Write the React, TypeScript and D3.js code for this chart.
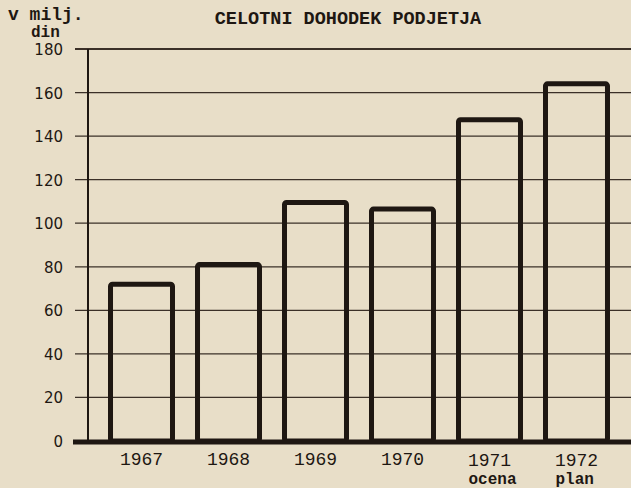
import React, { useRef, useEffect } from 'react';
import * as d3 from 'd3';

const years = ['1967', '1968', '1969', '1970', '1971', '1972'];
const notes = ['', '', '', '', 'ocena', 'plan'];
const income = [72, 81, 109.5, 106.5, 147.5, 164];
const yTicks = [0, 20, 40, 60, 80, 100, 120, 140, 160, 180];

const title = 'CELOTNI DOHODEK PODJETJA';
const unitLine1 = 'v milj.';
const unitLine2 = 'din';

const W = 631;
const H = 488;
const paper = '#e8dec8';
const ink = '#1e1712';
const mono = '"Liberation Mono", "DejaVu Sans Mono", monospace';

const App = () => {
    const svgRef = useRef<SVGSVGElement>(null);

    useEffect(() => {
        document.body.style.margin = '0';
        const svg = d3.select(svgRef.current);
        svg.selectAll('*').remove();

        const left = 88;
        const top = 49;
        const bottom = 441;

        const x = d3.scaleBand().domain(years).range([left, 630]).padding(0.23);
        const y = d3.scaleLinear().domain([0, 180]).range([bottom, top]);

        svg.append('rect').attr('width', W).attr('height', H).attr('fill', paper);

        // grid lines
        svg.append('g')
            .selectAll('line')
            .data(yTicks.filter((t) => t > 0))
            .join('line')
            .attr('x1', 75)
            .attr('x2', W)
            .attr('y1', (d) => y(d))
            .attr('y2', (d) => y(d))
            .attr('stroke', '#3b3028')
            .attr('stroke-width', (d) => (d === 180 ? 2 : 1.3));

        // tick labels
        svg.append('g')
            .selectAll('text')
            .data(yTicks)
            .join('text')
            .attr('x', 63)
            .attr('y', (d) => y(d) + 6)
            .attr('text-anchor', 'end')
            .attr('font-family', '"DejaVu Sans", sans-serif')
            .attr('font-size', 15)
            .attr('fill', ink)
            .text((d) => d);

        // left axis
        svg.append('line')
            .attr('x1', left)
            .attr('x2', left)
            .attr('y1', top)
            .attr('y2', bottom)
            .attr('stroke', ink)
            .attr('stroke-width', 2);

        // bars
        const sw = 5;
        svg.append('g')
            .selectAll('rect')
            .data(income)
            .join('rect')
            .attr('x', (d, i) => (x(years[i]) as number) + sw / 2)
            .attr('width', x.bandwidth() - sw)
            .attr('y', (d) => y(d))
            .attr('height', (d) => bottom - y(d))
            .attr('rx', 2)
            .attr('fill', 'none')
            .attr('stroke', ink)
            .attr('stroke-width', sw);

        // baseline
        svg.append('line')
            .attr('x1', 73)
            .attr('x2', W)
            .attr('y1', bottom + 1)
            .attr('y2', bottom + 1)
            .attr('stroke', ink)
            .attr('stroke-width', 5);

        // category labels
        const labels = svg.append('g')
            .attr('font-family', mono)
            .attr('font-size', 18)
            .attr('fill', ink);
        years.forEach((yr, i) => {
            const cx = (x(yr) as number) + x.bandwidth() / 2;
            const hasNote = notes[i] !== '';
            labels.append('text')
                .attr('x', cx)
                .attr('y', hasNote ? 466 : 465)
                .attr('text-anchor', 'middle')
                .text(yr);
            if (hasNote) {
                labels.append('text')
                    .attr('x', cx - 21)
                    .attr('y', 484)
                    .attr('text-anchor', 'start')
                    .attr('font-weight', 'bold')
                    .attr('font-size', 16)
                    .text(notes[i]);
            }
        });

        // title and unit
        svg.append('text')
            .attr('x', 348)
            .attr('y', 24)
            .attr('text-anchor', 'middle')
            .attr('font-family', mono)
            .attr('font-weight', 'bold')
            .attr('font-size', 18.5)
            .attr('fill', ink)
            .text(title);

        svg.append('text')
            .attr('x', 8)
            .attr('y', 20)
            .attr('font-family', mono)
            .attr('font-weight', 'bold')
            .attr('font-size', 18)
            .attr('fill', ink)
            .text(unitLine1);

        svg.append('text')
            .attr('x', 31)
            .attr('y', 37)
            .attr('font-family', mono)
            .attr('font-weight', 'bold')
            .attr('font-size', 16)
            .attr('fill', ink)
            .text(unitLine2);
    }, []);

    return <svg ref={svgRef} width={W} height={H} style={{ display: 'block' }}></svg>;
};

export default App;
